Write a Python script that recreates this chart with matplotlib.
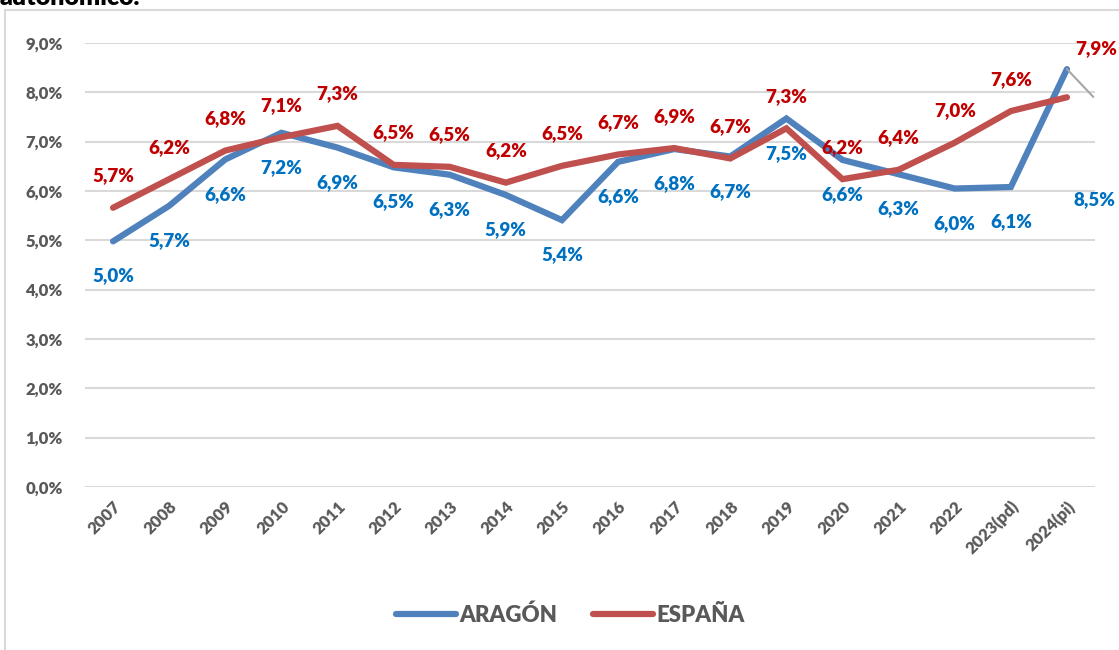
import matplotlib
matplotlib.use("Agg")
import matplotlib.pyplot as plt
from matplotlib.patches import Rectangle
from matplotlib.lines import Line2D

plt.rcParams['font.family'] = ['Lato', 'DejaVu Sans']

years = ['2007', '2008', '2009', '2010', '2011', '2012', '2013', '2014', '2015',
         '2016', '2017', '2018', '2019', '2020', '2021', '2022', '2023(pd)', '2024(pi)']
aragon = [4.98, 5.70, 6.64, 7.18, 6.88, 6.48, 6.33, 5.92, 5.41,
          6.59, 6.85, 6.70, 7.47, 6.63, 6.34, 6.05, 6.08, 8.47]
espana = [5.66, 6.24, 6.82, 7.09, 7.32, 6.53, 6.49, 6.17, 6.51,
          6.74, 6.87, 6.66, 7.27, 6.24, 6.43, 6.98, 7.62, 7.90]
yticks = [0, 1, 2, 3, 4, 5, 6, 7, 8, 9]

c_ar = '#4f81bd'
c_es = '#c0504d'
c_ar_lab = '#0070c0'
c_es_lab = '#c00000'
grey = '#595959'
wt = 'heavy'

fig = plt.figure(figsize=(11.19, 6.5), dpi=100)
ax = fig.add_axes([85 / 1119, 1 - 487 / 650, 1010 / 1119, (487 - 43) / 650])

# chart frame and the title that is cut at the top
fig.patches.append(Rectangle((5 / 1119, -0.1), 1.2, 1.1 - 10 / 650,
                             transform=fig.transFigure, fill=False,
                             edgecolor='#d9d9d9', linewidth=1.5))
fig.text(0.0, 1 - 5 / 650, 'autonómico.', fontsize=18, fontweight=wt,
         color='black', va='baseline', ha='left')

x = list(range(len(years)))
ax.plot(x, aragon, color=c_ar, linewidth=4.5, solid_capstyle='round', solid_joinstyle='miter', zorder=3)
ax.plot(x, espana, color=c_es, linewidth=4.5, solid_capstyle='round', solid_joinstyle='miter', zorder=4)

def fmt(v):
    return f'{v:.1f}%'.replace('.', ',')

n = len(years)
for i in range(n):
    if i == n - 1:
        ax.annotate(fmt(aragon[i]), (i, aragon[i]), xytext=(20, -94), textcoords='offset points',
                    ha='center', va='center', color=c_ar_lab, fontsize=13.5, fontweight=wt)
        ax.annotate(fmt(espana[i]), (i, espana[i]), xytext=(21, 35), textcoords='offset points',
                    ha='center', va='center', color=c_es_lab, fontsize=13.5, fontweight=wt)
        ax.annotate('', (i, aragon[i]), xytext=(19, -20), textcoords='offset points',
                    arrowprops=dict(arrowstyle='-', color='#a6a6a6', lw=1.5,
                                    shrinkA=0, shrinkB=0))
    else:
        ax.annotate(fmt(aragon[i]), (i, aragon[i]), xytext=(0, -25), textcoords='offset points',
                    ha='center', va='center', color=c_ar_lab, fontsize=13.5, fontweight=wt)
        ax.annotate(fmt(espana[i]), (i, espana[i]), xytext=(0, 23), textcoords='offset points',
                    ha='center', va='center', color=c_es_lab, fontsize=13.5, fontweight=wt)

ax.set_xlim(-0.5, n - 0.5)
ax.set_ylim(0, 9)
ax.set_yticks(yticks)
ax.set_yticklabels([f'{v},0%' for v in yticks])
ax.set_xticks(x)
ax.set_xticklabels(years, rotation=45, ha='right', rotation_mode='anchor')
ax.grid(axis='y', color='#d9d9d9', linewidth=1.5)
ax.set_axisbelow(True)
for s in ax.spines.values():
    s.set_visible(False)
ax.tick_params(axis='both', length=0, colors=grey, labelsize=12)
ax.tick_params(axis='y', pad=16)
ax.tick_params(axis='x', pad=8)
for lab in ax.get_xticklabels() + ax.get_yticklabels():
    lab.set_fontweight(wt)

handles = [Line2D([], [], color=c_ar, linewidth=4.5, solid_capstyle='round'),
           Line2D([], [], color=c_es, linewidth=4.5, solid_capstyle='round')]
leg = fig.legend(handles, ['ARAGÓN', 'ESPAÑA'], loc='center', bbox_to_anchor=(570 / 1119, 1 - 615 / 650),
                 ncol=2, frameon=False, handlelength=2.7, handletextpad=0.15, columnspacing=1.6,
                 prop={'size': 16, 'weight': wt})
for t in leg.get_texts():
    t.set_color(grey)

fig.savefig('out.png', dpi=100)
